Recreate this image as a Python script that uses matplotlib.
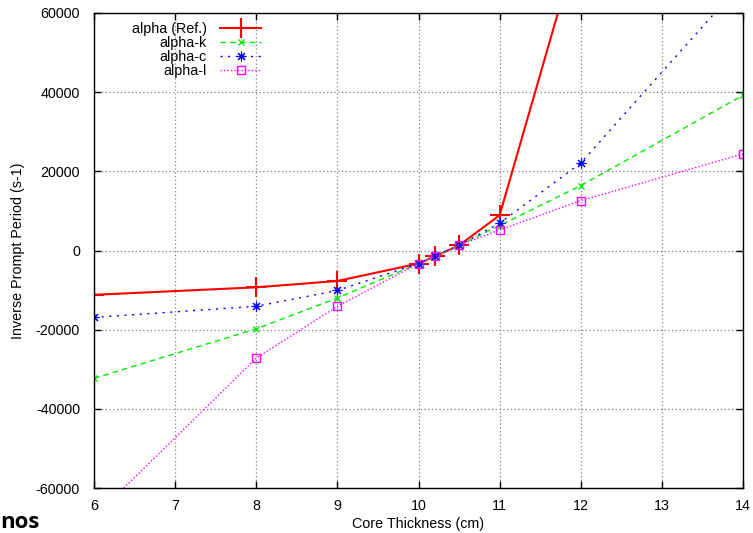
import matplotlib
matplotlib.use("Agg")
import matplotlib.pyplot as plt

plt.rcParams['font.family'] = ['Liberation Sans', 'DejaVu Sans']

# ---- data ----
x_ref = [6, 8, 9, 10, 10.2, 10.5, 11, 12]
alpha_ref = [-11200, -9300, -7700, -3300, -1500, 1300, 8900, 80000]

x_calc = [6, 8, 9, 10, 10.2, 10.5, 11, 12, 14]
alpha_k = [-32300, -19800, -12000, -3300, -1500, 1300, 6300, 16400, 39200]
alpha_c = [-16900, -14100, -10100, -3300, -1500, 1300, 6900, 22100, 68000]
alpha_l = [-67400, -27200, -14100, -3300, -1500, 1300, 5200, 12600, 24400]

labels = ['alpha (Ref.)', 'alpha-k', 'alpha-c', 'alpha-l']
xticks = [6, 7, 8, 9, 10, 11, 12, 13, 14]
yticks = [-60000, -40000, -20000, 0, 20000, 40000, 60000]

W, H = 753, 533
fig = plt.figure(figsize=(W / 100, H / 100), dpi=100)
L, R, T, B = 94, 743, 13, 488
ax = fig.add_axes([L / W, 1 - B / H, (R - L) / W, (B - T) / H])

fs = 10.3

ax.plot(x_ref, alpha_ref, color='#ff0000', lw=1.5, marker='+', ms=15,
        mew=1.5, label=labels[0])
ax.plot(x_calc, alpha_k, color='#00ee00', lw=1.0, ls=(0, (4, 3)),
        marker='x', ms=5, mew=1.0, label=labels[1])
ax.plot(x_calc, alpha_c, color='#0000ff', lw=1.0, ls=(0, (1.5, 4)),
        marker=(8, 2, 0), ms=7, mew=0.8, label=labels[2])
ax.plot(x_calc, alpha_l, color='#ff00ff', lw=1.0, ls=(0, (1, 1.5)),
        marker='s', ms=6, mew=1.0, mfc='none', label=labels[3])

ax.set_xlim(6, 14)
ax.set_ylim(-60000, 60000)
ax.set_xticks(xticks)
ax.set_yticks(yticks)
ax.set_xticklabels([str(v) for v in xticks], fontsize=fs)
ax.set_yticklabels([str(v) for v in yticks], fontsize=fs)
ax.tick_params(direction='in', length=5, width=1, top=True, right=True,
               pad=8)
ax.tick_params(axis='y', pad=10)
ax.grid(True, color='#808080', ls=(0, (1, 2)), lw=0.9)
for s in ax.spines.values():
    s.set_linewidth(1.0)

ax.set_xlabel('Core Thickness (cm)', fontsize=fs, labelpad=3)
ax.set_ylabel('Inverse Prompt Period (s-1)', fontsize=fs, labelpad=8)

leg = ax.legend(loc='upper left', markerfirst=False, frameon=False,
                fontsize=fs, handlelength=2.9, handletextpad=0.9,
                labelspacing=0.0, borderpad=0, borderaxespad=0,
                numpoints=1,
                bbox_to_anchor=((132 - L) / (R - L), 1 - (22 - T) / (B - T)))

fig.text(0.0, 0.0, 'nos', fontsize=16, fontweight='bold',
         family=['Open Sans', 'DejaVu Sans'], ha='left', va='bottom')

fig.savefig('out.png', dpi=100)
